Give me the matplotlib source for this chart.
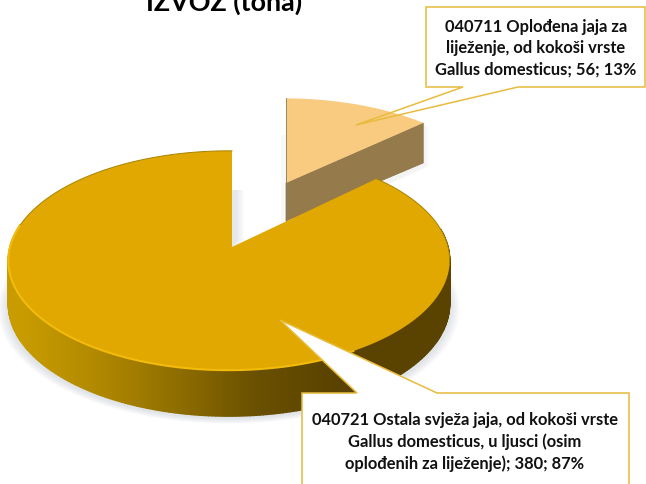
import numpy as np
import matplotlib.pyplot as plt
from matplotlib.colors import LinearSegmentedColormap
from matplotlib.patches import Polygon

plt.rcParams['font.family'] = ['Lato', 'DejaVu Sans']

title = "IZVOZ (tona)"
codes = ["040711", "040721"]
tons = [56, 380]
percent = [13, 87]
label_a = ["040711 Oplođena jaja za", "liježenje, od kokoši vrste", "Gallus domesticus; 56; 13%"]
label_b = ["040721 Ostala svježa jaja, od kokoši vrste", "Gallus domesticus, u ljusci (osim",
           "oplođenih za liježenje); 380; 87%"]

W, H = 646, 484
K = 0.123    # perspective of the tilted disc, front to back
L = 0.0136   # and left to right


def project(t, apex, sx=1.0, sy=1.0):
    # t is clockwise from 12 o'clock, in radians
    u = np.sin(t)
    v = np.cos(t)
    d = 1 + K * v + L * u
    return apex[0] + sx * 219 * u / d, apex[1] - sy * 108 * v / d


def wedge_xy(t0, t1, apex, sx=1.0, sy=1.0):
    t = np.linspace(t0, t1, 300)
    x, y = project(t, apex, sx, sy)
    return np.r_[apex[0], x], np.r_[apex[1], y]


fig = plt.figure(figsize=(W / 100, H / 100), dpi=100)
ax = fig.add_axes([0, 0, 1, 1])
ax.set_xlim(0, W)
ax.set_ylim(H, 0)
ax.axis("off")

fracs = np.array(tons) / sum(tons)
split = 2 * np.pi * fracs[0]
small_apex = (286, 183)
big_apex = (232, 247)

# soft shadows
tt = np.linspace(np.pi * 0.4, np.pi * 1.7, 200)
for grow in np.linspace(10, 1, 8):
    px, py = project(tt, big_apex, 1 + grow / 220, 1 + grow / 220)
    ax.fill(px, py + 48, color="#8a94a6", alpha=0.03, lw=0, zorder=1)
for grow in np.linspace(8, 1, 6):
    ax.add_patch(Polygon([(232, 190), (232 + grow + 4, 190), (232 + grow + 4, 240), (232, 250)],
                         fc="#8a94a6", alpha=0.035, lw=0, zorder=1))
    ax.add_patch(Polygon([(425, 124), (425 + grow * 0.6, 130), (425 + grow * 0.6, 166), (300, 225)],
                         fc="#8a94a6", alpha=0.015, lw=0, zorder=1))
ax.add_patch(Polygon([(281, 135), (286, 135), (286, 225), (281, 225)],
                     fc="#8a94a6", alpha=0.06, lw=0, zorder=1))

edge = "#e8bb3c"
box_a = [(426, 7), (645, 7), (645, 87), (518, 87), (356, 125), (463, 87), (426, 87)]
box_b = [(302, 393), (357, 393), (280, 320), (437, 393), (629, 393), (629, 490), (302, 490)]

# the first callout shows the slice through its pointer
ax.add_patch(Polygon(box_a, closed=True, fc="white", lw=0, zorder=1.5))

# small slice, exploded
sx, sy = wedge_xy(0, split, small_apex, 0.95, 0.88)
vx, vy = project(split, small_apex, 0.95, 0.88)
ax.add_patch(Polygon([small_apex, (vx, vy), (vx, vy + 40), (small_apex[0], small_apex[1] + 38)],
                     fc="#957a4c", ec="#8a6f42", lw=0.5, zorder=2))
ax.fill(sx, sy, color="#f9cb80", lw=0, zorder=3)
ax.plot([small_apex[0], small_apex[0]], [sy[1], small_apex[1] + 38], color="#8a7a5c", lw=0.6, zorder=3)

# big slice, rim first so the top covers it
rim = LinearSegmentedColormap.from_list("rim", ["#c89c00", "#b08800", "#8f6e00", "#6a5000", "#5a4300", "#5a4300"])
ts = np.linspace(np.radians(80), np.radians(282), 260)
for a, b in zip(ts[:-1], ts[1:]):
    xa, ya = project(a, big_apex)
    xb, yb = project(b, big_apex)
    ha = 43 - 3 * np.cos(a)
    hb = 43 - 3 * np.cos(b)
    c = rim(np.clip((0.5 * (xa + xb) - 20) / 390, 0, 1))
    ax.add_patch(Polygon([(xa, ya), (xb, yb), (xb, yb + hb), (xa, ya + ha)], fc=c, ec=c, lw=1.0, zorder=4))

bx, by = wedge_xy(split, 2 * np.pi, big_apex)
ax.fill(bx, by, color="#e0a800", lw=0, zorder=5)
hl = np.linspace(np.radians(150), np.radians(282), 200)
hx, hy = project(hl, big_apex)
ax.plot(hx, hy, color="#f3bb0c", lw=1.5, zorder=6, solid_capstyle="round")
for t0, t1 in [(split, np.radians(100)), (np.radians(282), 2 * np.pi)]:
    ox, oy = project(np.linspace(t0, t1, 100), big_apex)
    ax.plot(ox, oy, color="#a88400", lw=0.7, zorder=6)

# callouts
ax.add_patch(Polygon(box_a, closed=True, fill=False, ec=edge, lw=1.1, zorder=7))
ax.add_patch(Polygon(box_b, closed=True, fc="white", ec=edge, lw=1.1, zorder=7))

for y, line in zip([27, 48, 70], label_a):
    ax.text(536, y, line, ha="center", va="center", fontsize=11.9, fontweight="bold", color="#111111", zorder=8)
for y, line in zip([420, 442, 464], label_b):
    ax.text(465, y, line, ha="center", va="center", fontsize=11.9, fontweight="bold", color="#111111", zorder=8)

ax.text(224.5, 11, title, ha="center", va="baseline", fontsize=19.4, fontweight="bold", color="black", zorder=8)

fig.savefig("out.png", dpi=100)
